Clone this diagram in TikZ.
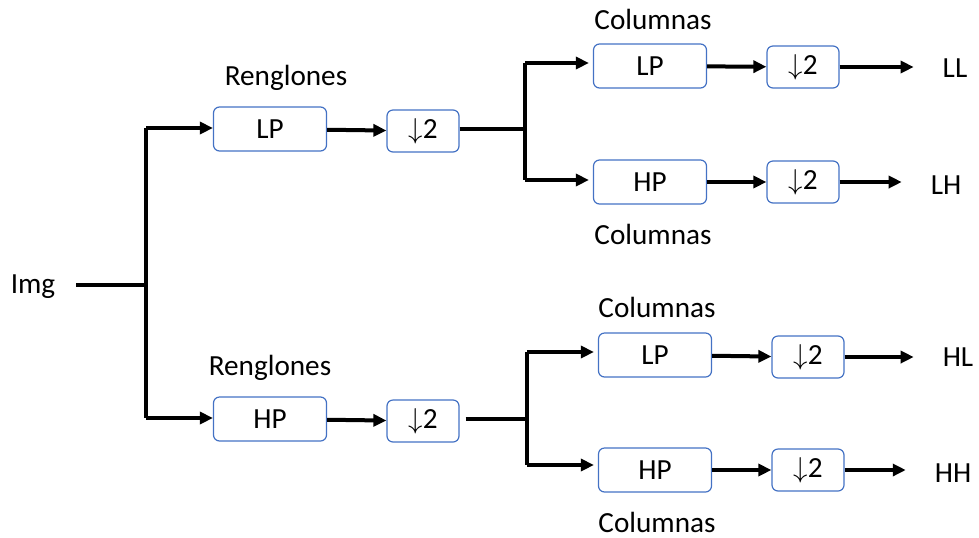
\documentclass[tikz,border=0pt]{standalone}
\usepackage{fontspec}
\setmainfont{Carlito}
\usetikzlibrary{arrows.meta}
\definecolor{azul}{RGB}{68,114,196}

\begin{document}
\begin{tikzpicture}[x=0.5pt,y=-0.5pt,
    every node/.style={font=\fontsize{14.6}{17}\selectfont},
    filtro/.style={draw=azul, line width=0.6pt, rounded corners=3pt,
        minimum width=56.5pt, minimum height=22pt, inner sep=0pt},
    diezmo/.style={filtro, minimum width=36pt, minimum height=21pt},
    linea/.style={line width=2pt},
    flecha/.style={linea, -{Triangle[length=6.5pt,width=6pt]}}]
    \useasboundingbox (0,0) rectangle (979,537);
    % entrada
    \node (img) at (33,287) {Img};
    \coordinate (r) at (146,285);
    \coordinate (ra) at (146,128);
    \coordinate (rb) at (146,418);
    % renglones
    \node (ren1) at (286,78) {Renglones};
    \node [filtro] (lp1) at (270,129) {LP};
    \node [diezmo] (d1) at (423,131) {$\downarrow$2};
    \node (ren2) at (270,368) {Renglones};
    \node [filtro] (hp1) at (270,419) {HP};
    \node [diezmo] (d2) at (423,421) {$\downarrow$2};
    \coordinate (j1) at (525,129);
    \coordinate (j1a) at (525,63);
    \coordinate (j1b) at (525,180);
    \coordinate (j2) at (527,419);
    \coordinate (j2a) at (527,352);
    \coordinate (j2b) at (527,465);
    % columnas
    \node (col1) at (653,19) {Columnas};
    \node [filtro] (lp2) at (650,66) {LP};
    \node [diezmo] (d3) at (803,67) {$\downarrow$2};
    \node (ll) at (955,68) {LL};
    \node [filtro] (hp2) at (650,182) {HP};
    \node [diezmo] (d4) at (803,182) {$\downarrow$2};
    \node (lh) at (946,185) {LH};
    \node (col2) at (653,234) {Columnas};
    \node (col3) at (657,307) {Columnas};
    \node [filtro] (lp3) at (655,355) {LP};
    \node [diezmo] (d5) at (808,357) {$\downarrow$2};
    \node (hl) at (958,357) {HL};
    \node [filtro] (hp3) at (655,470) {HP};
    \node [diezmo] (d6) at (808,470) {$\downarrow$2};
    \node (hh) at (953,473) {HH};
    \node (col4) at (657,522) {Columnas};
    % conexiones
    \draw [linea, shorten <=7pt] (img.east |- r) -- (r);
    \draw [linea] (ra) -- (rb);
    \draw [flecha] (ra) -- (ra -| lp1.west);
    \draw [flecha] (rb) -- (rb -| hp1.west);
    \draw [flecha] (lp1) -- (d1);
    \draw [flecha] (hp1) -- (d2);
    \draw [linea] (j1 -| d1.east) -- (j1);
    \draw [linea, shorten <=3pt] (j2 -| d2.east) -- (j2);
    \draw [linea] (j1a) -- (j1b);
    \draw [linea] (j2a) -- (j2b);
    \draw [flecha, shorten >=2pt] (j1a) -- (j1a -| lp2.west);
    \draw [flecha, shorten >=2pt] (j1b) -- (j1b -| hp2.west);
    \draw [flecha, shorten >=2pt] (j2a) -- (j2a -| lp3.west);
    \draw [flecha, shorten >=2pt] (j2b) -- (j2b -| hp3.west);
    \draw [flecha] (lp2) -- (d3);
    \draw [flecha] (hp2) -- (d4);
    \draw [flecha] (lp3) -- (d5);
    \draw [flecha] (hp3) -- (d6);
    \draw [flecha, shorten >=11pt] (d3) -- (d3 -| ll.west);
    \draw [flecha, shorten >=11pt] (d4) -- (d4 -| lh.west);
    \draw [flecha, shorten >=11pt] (d5) -- (d5 -| hl.west);
    \draw [flecha, shorten >=11pt] (d6) -- (d6 -| hh.west);
\end{tikzpicture}
\end{document}
